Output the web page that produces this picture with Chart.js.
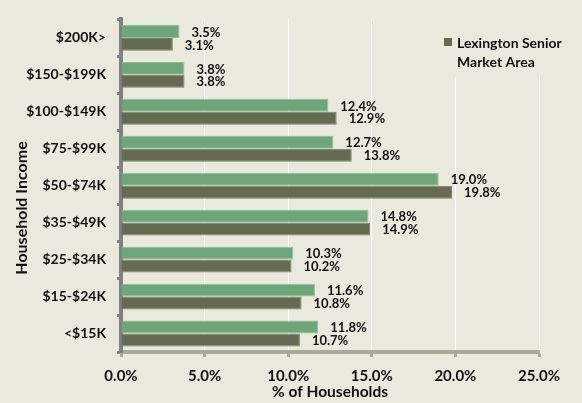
<!DOCTYPE html>
<html>
<head>
<meta charset="utf-8">
<script src="https://cdn.jsdelivr.net/npm/chart.js@4"></script>
<style>
  html, body { margin: 0; padding: 0; background: #e9e9dd; }
  #wrap { width: 582px; height: 403px; position: relative; }
</style>
</head>
<body>
<div id="wrap"><canvas id="c" width="582" height="403"></canvas></div>
<script>
const categories = ["$200K>", "$150-$199K", "$100-$149K", "$75-$99K", "$50-$74K", "$35-$49K", "$25-$34K", "$15-$24K", "<$15K"];
const seriesGreen = [3.5, 3.8, 12.4, 12.7, 19.0, 14.8, 10.3, 11.6, 11.8];
const seriesLexington = [3.1, 3.8, 12.9, 13.8, 19.8, 14.9, 10.2, 10.8, 10.7];
const seriesNames = ["", "Lexington Senior Market Area"];
const legendLines = ["Lexington Senior", "Market Area"];
const xTicks = [0, 5, 10, 15, 20, 25];
const yTitle = "Household Income";
const xTitle = "% of Households";

const FONT = "Lato, 'Open Sans', sans-serif";
const BG = '#e9e9dd';

const labelPlugin = {
  id: 'valueLabels',
  afterDatasetsDraw(chart) {
    const ctx = chart.ctx;
    ctx.save();
    ctx.font = "bold 13px " + FONT;
    ctx.fillStyle = '#111';
    ctx.textAlign = 'left';
    ctx.textBaseline = 'middle';
    chart.data.datasets.forEach((ds, di) => {
      const meta = chart.getDatasetMeta(di);
      meta.data.forEach((bar, i) => {
        ctx.fillText(ds.data[i].toFixed(1) + '%', bar.x + 12, bar.y + 1);
      });
    });
    ctx.restore();
  }
};

const legendPlugin = {
  id: 'customLegend',
  beforeDatasetsDraw(chart) {
    const ctx = chart.ctx;
    ctx.save();
    ctx.fillStyle = BG;
    ctx.fillRect(438, chart.chartArea.top, 582 - 438, 77 - chart.chartArea.top);
    ctx.restore();
  },
  afterDraw(chart) {
    const ctx = chart.ctx;
    ctx.save();
    ctx.fillStyle = '#656a52';
    ctx.fillRect(444, 38, 8, 8);
    ctx.font = "bold 14px " + FONT;
    ctx.fillStyle = '#111';
    ctx.textAlign = 'left';
    ctx.textBaseline = 'middle';
    ctx.fillText(legendLines[0], 457, 43);
    ctx.fillText(legendLines[1], 457, 62);
    // y axis title
    ctx.translate(22, 208);
    ctx.rotate(-Math.PI / 2);
    ctx.textAlign = 'center';
    ctx.font = "bold 16px " + FONT;
    ctx.fillText(yTitle, 0, 0);
    ctx.restore();
  }
};

new Chart(document.getElementById('c'), {
  type: 'bar',
  data: {
    labels: categories,
    datasets: [
      { label: seriesNames[0], data: seriesGreen, backgroundColor: '#6fa679', borderColor: '#8fbf98', borderWidth: 1, borderSkipped: 'left', categoryPercentage: 0.7, barPercentage: 1.0 },
      { label: seriesNames[1], data: seriesLexington, backgroundColor: '#656a52', borderColor: '#7e826c', borderWidth: 1, borderSkipped: 'left', categoryPercentage: 0.7, barPercentage: 1.0 }
    ]
  },
  options: {
    indexAxis: 'y',
    responsive: false,
    animation: false,
    devicePixelRatio: 1,
    layout: { padding: { top: 10, right: 43, bottom: 0, left: 0 } },
    plugins: { legend: { display: false }, tooltip: { enabled: false } },
    scales: {
      x: {
        min: 0, max: 25,
        afterFit(s) { s.height = 51; },
        afterBuildTicks(s) { s.ticks = xTicks.map(v => ({ value: v })); },
        ticks: {
          padding: 10,
          color: '#111',
          font: { family: FONT, size: 15, weight: 'bold' },
          callback: v => Number(v).toFixed(1) + '%'
        },
        grid: { color: '#ffffff', lineWidth: 1, tickColor: '#a8ab97', tickLength: 5, tickWidth: 3 },
        border: { color: '#a8ab97', width: 4 },
        title: { display: true, text: xTitle, color: '#111', font: { family: FONT, size: 15.5, weight: 'bold' }, padding: { top: 0, bottom: 2 } }
      },
      y: {
        afterFit(s) { s.width = 121; },
        ticks: {
          padding: 11,
          color: '#111',
          font: { family: FONT, size: 14, weight: 'bold' }
        },
        grid: { drawOnChartArea: false, tickColor: '#808080', tickLength: 4, tickWidth: 3 },
        border: { color: '#808080', width: 4 }
      }
    }
  },
  plugins: [labelPlugin, legendPlugin]
});
</script>
</body>
</html>
